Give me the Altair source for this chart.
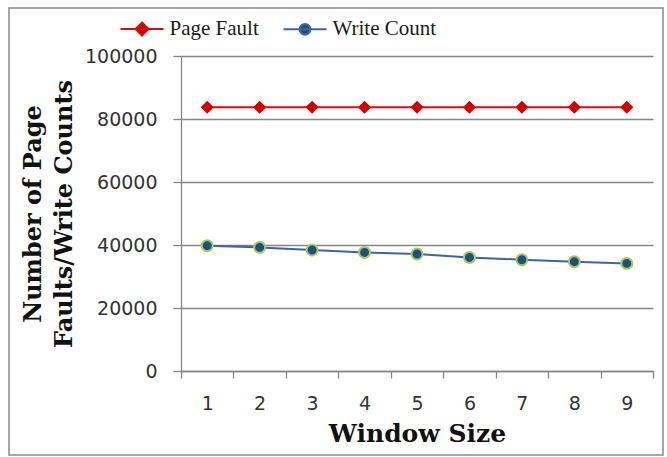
import altair as alt
import pandas as pd

window_sizes = [1, 2, 3, 4, 5, 6, 7, 8, 9]
page_fault = [83700, 83700, 83700, 83700, 83700, 83700, 83700, 83700, 83700]
write_count = [39780, 39240, 38410, 37650, 37140, 36060, 35330, 34700, 34160]
series_names = ["Page Fault", "Write Count"]
y_ticks = [0, 20000, 40000, 60000, 80000, 100000]
x_boundaries = [0.5, 1.5, 2.5, 3.5, 4.5, 5.5, 6.5, 7.5, 8.5, 9.5]

line_colors = ["#D01010", "#3F64A0"]
fill_colors = ["#D00000", "#1F4E80"]
legend_paths = [
    "M-1,0H1M0,-0.3L0.3,0L0,0.3L-0.3,0Z",
    "M-1,0H1M0.25,0A0.25,0.25,0,1,1,-0.25,0A0.25,0.25,0,1,1,0.25,0Z",
]

df = pd.DataFrame({
    "x": window_sizes * 2,
    "y": page_fault + write_count,
    "series": [series_names[0]] * len(window_sizes) + [series_names[1]] * len(window_sizes),
})

grey = "#868686"
x_enc = alt.X(
    "x:Q",
    scale=alt.Scale(domain=[0.5, 9.5], nice=False, zero=False),
    axis=alt.Axis(
        values=x_boundaries,
        title="Window Size",
        labelExpr="datum.value < 9 ? format(datum.value + 0.5, 'd') : ''",
        labelOverlap=False,
        labelOffset=26.2,
        tickColor=grey,
        tickSize=7,
        tickWidth=1.3,
        domainColor=grey,
        domainWidth=1.3,
        grid=False,
        labelFont="DejaVu Sans",
        labelFontSize=19,
        labelColor="#333333",
        labelPadding=16,
        labelFlush=False,
        labelBound=False,
        titleFont="DejaVu Serif",
        titleFontWeight="bold",
        titleFontSize=25,
        titleColor="#111111",
        titlePadding=8,
    ),
)
y_enc = alt.Y(
    "y:Q",
    scale=alt.Scale(domain=[0, 100000], nice=False),
    axis=alt.Axis(
        values=y_ticks,
        format="d",
        title=["Number of Page", "Faults/Write Counts"],
        tickSize=8,
        tickWidth=1.3,
        tickColor=grey,
        domainColor=grey,
        domainWidth=1.3,
        gridColor=grey,
        gridWidth=1.3,
        labelFont="DejaVu Sans",
        labelFontSize=19,
        labelColor="#333333",
        labelPadding=16,
        titleFont="DejaVu Serif",
        titleFontWeight="bold",
        titleFontSize=24,
        titleColor="#111111",
        titleLineHeight=31,
        titlePadding=8,
    ),
)

base = alt.Chart(df)
pf = base.transform_filter(alt.datum.series == series_names[0])
wc = base.transform_filter(alt.datum.series == series_names[1])

pf_line = pf.mark_line(strokeWidth=2, color=line_colors[0]).encode(x=x_enc, y=y_enc)
wc_line = wc.mark_line(strokeWidth=2, color=line_colors[1]).encode(x="x:Q", y="y:Q")

pf_points = pf.mark_point(
    shape="diamond", filled=True, size=170, color=fill_colors[0], opacity=1
).encode(x="x:Q", y="y:Q")

wc_points = wc.mark_point(
    shape="circle", filled=False, size=120, fill=fill_colors[1], stroke="#A8C860", strokeWidth=2, opacity=1, fillOpacity=1
).encode(x="x:Q", y="y:Q")

legend_layer = base.transform_filter("false").mark_point(strokeWidth=2).encode(
    x="x:Q",
    y="y:Q",
    color=alt.Color("series:N", scale=alt.Scale(domain=series_names, range=line_colors)),
    fill=alt.Fill("series:N", scale=alt.Scale(domain=series_names, range=fill_colors)),
    shape=alt.Shape("series:N", scale=alt.Scale(domain=series_names, range=legend_paths)),
)

frame = alt.Chart(pd.DataFrame({"f": [0]})).mark_rect(
    fill="transparent", stroke="#8a8a8a", strokeWidth=1.5
).encode(
    x=alt.value(-172), x2=alt.value(482), y=alt.value(-48), y2=alt.value(399)
)

chart = alt.layer(frame, pf_line, wc_line, pf_points, wc_points, legend_layer).properties(
    width=472,
    height=315,
    padding={"left": 181, "top": 56, "right": 14, "bottom": 86},
    autosize=alt.AutoSizeParams(type="none"),
    background="white",
).configure_view(stroke=None).configure_legend(
    orient="none",
    legendX=-61.5,
    legendY=-49.5,
    direction="horizontal",
    title=None,
    symbolSize=1849,
    symbolStrokeWidth=2,
    symbolOpacity=1,
    labelFont="Liberation Serif",
    labelFontSize=21,
    labelColor="#1a1a1a",
    labelOffset=5,
    columnPadding=20,
    padding=0,
)

chart.save("out.html", embed_options={"renderer": "svg", "actions": False})
